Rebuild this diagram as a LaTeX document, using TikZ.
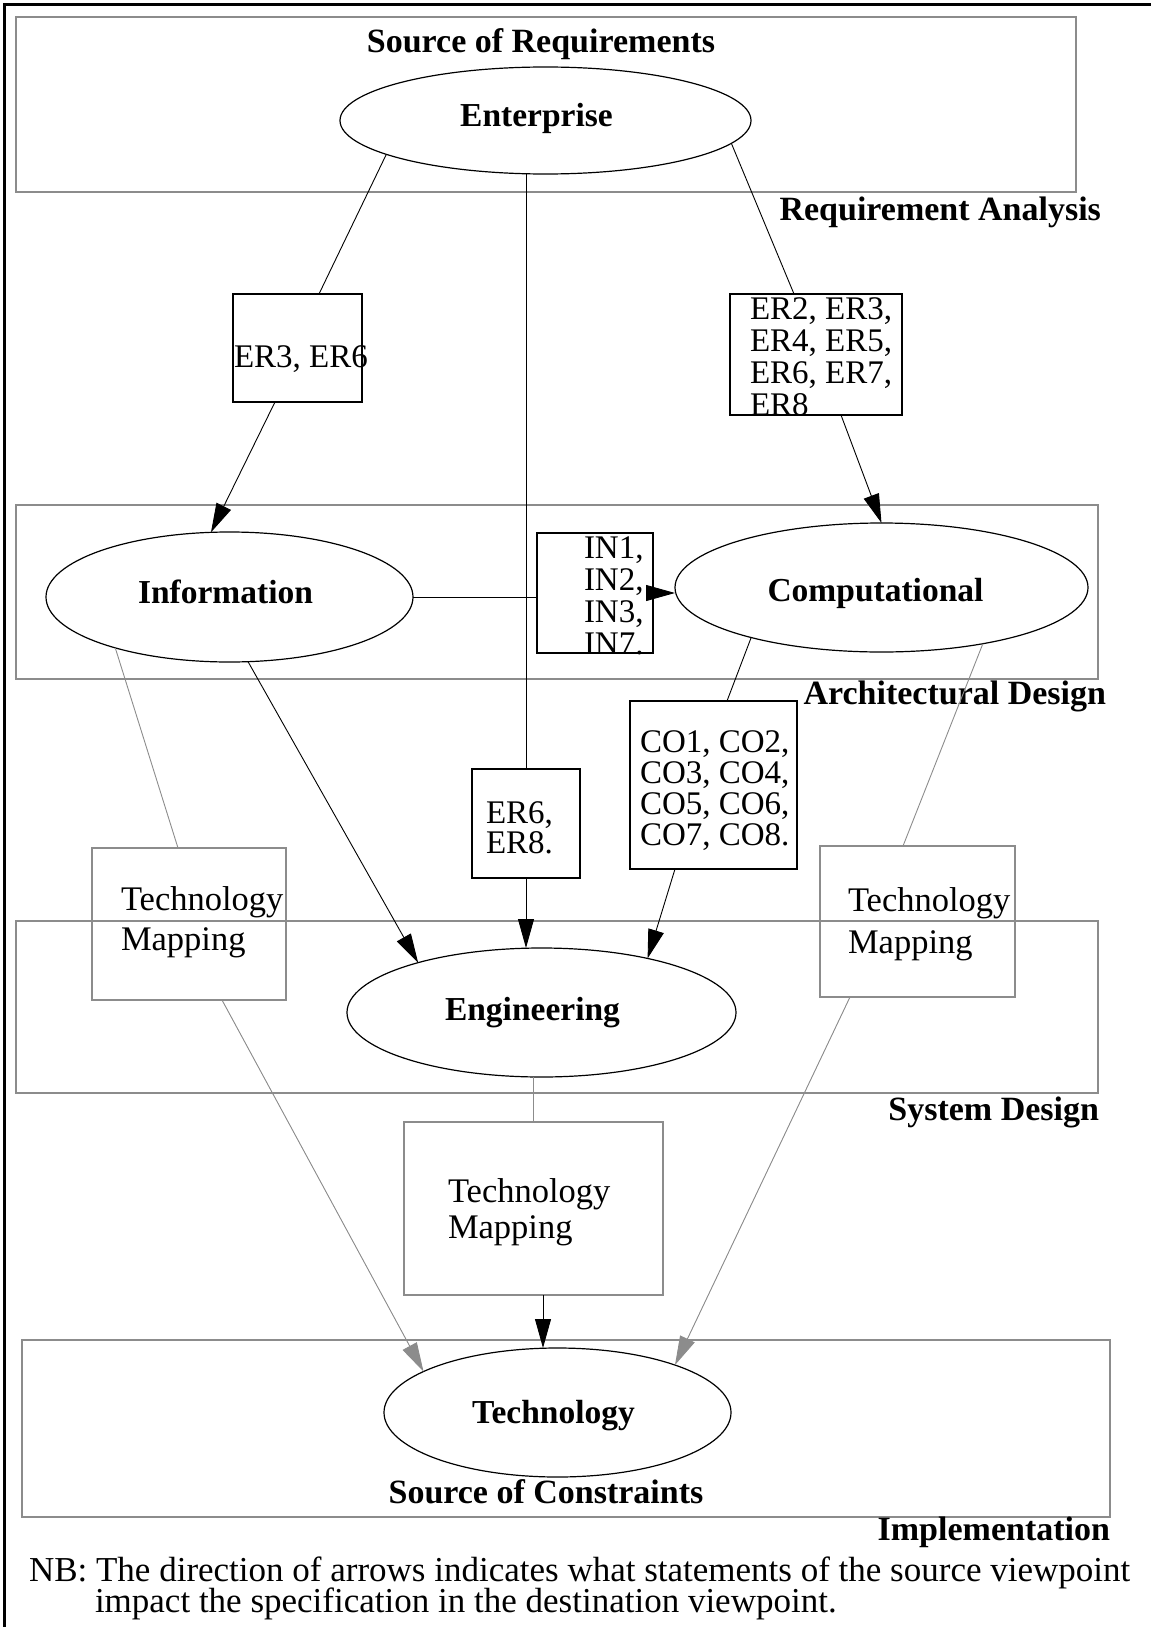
\documentclass[tikz,border=0pt]{standalone}
\usepackage{fontspec}
\setmainfont{Liberation Serif}
\usetikzlibrary{shapes.geometric,arrows.meta,calc}
\AtBeginDocument{\lineskiplimit=-30pt\relax}
\definecolor{fmgray}{gray}{0.55}
\tikzset{
  every node/.style={inner sep=0pt, outer sep=0pt},
  reg/.style={font=\fontsize{33}{32}\selectfont, align=left},
  bld/.style={font=\fontsize{34}{32}\selectfont\bfseries},
  vpfont/.style={font=\fontsize{33.5}{32}\selectfont\bfseries},
  layerbox/.style={draw=fmgray, line width=1.3pt},
  tmbox/.style={draw=fmgray, line width=1.1pt},
  reqbox/.style={draw=black, line width=1.1pt},
  vp/.style={ellipse, draw=black, line width=1.2pt, vpfont},
  conn/.style={line width=0.9pt, draw=black},
  gconn/.style={line width=0.9pt, draw=fmgray},
  arr/.style={-{Triangle[length=29pt,width=16pt]}},
}
\begin{document}
\begin{tikzpicture}[x=1pt,y=-1pt]
\useasboundingbox (0,0) rectangle (1151,1627);
% outer frame (top and left)
\draw[line width=3pt] (4,1627) -- (4,5) -- (1151,5);

% layer boxes
\node[layerbox, minimum width=1060pt, minimum height=175pt] (srcL) at (546,104.5) {};
\node[layerbox, minimum width=1082pt, minimum height=174pt] (archL) at (557,592) {};
\node[layerbox, minimum width=1082pt, minimum height=172pt] (sysL) at (557,1007) {};
\node[layerbox, minimum width=1088pt, minimum height=177pt] (implL) at (566,1428.5) {};

% layer labels
\node[bld, anchor=base] (srcT) at (541,53) {Source of Requirements};
\node[bld, anchor=base east] (reqT) at (1101,220) {Requirement Analysis};
\node[bld, anchor=base east] (archT) at (1106,704) {Architectural Design};
\node[bld, anchor=base east] (sysT) at (1099,1120) {System Design};
\node[bld, anchor=base] (conT) at (546,1503) {Source of Constraints};
\node[bld, anchor=base east] (implT) at (1110,1540) {Implementation};

% viewpoints
\node[vp, minimum width=411pt, minimum height=107pt, text height=22pt, text depth=9pt] (ent) at (545.5,120.5) {\hspace*{-18pt}Enterprise};
\node[vp, minimum width=367pt, minimum height=130pt, text height=22pt, text depth=9pt] (info) at (229.5,597) {\hspace*{-8pt}Information};
\node[vp, minimum width=413pt, minimum height=129pt, text height=27pt, text depth=0pt] (comp) at (881.5,587.5) {\hspace*{-12pt}Computational};
\node[vp, minimum width=389pt, minimum height=129pt, text height=22pt, text depth=7pt] (eng) at (541.5,1012.5) {\hspace*{-18pt}Engineering};
\node[vp, minimum width=347pt, minimum height=129pt, text height=22pt, text depth=0pt] (tech) at (557.5,1412.5) {\hspace*{-8pt}Technology};

% statement boxes
\node[reqbox, minimum width=129pt, minimum height=108pt] (er36) at (297.5,348) {};
\node[reqbox, minimum width=172pt, minimum height=121pt] (er2b) at (816,354.5) {};
\node[reqbox, minimum width=116pt, minimum height=120pt] (inb) at (595,593) {};
\node[reqbox, minimum width=108pt, minimum height=109pt] (er68) at (526,823.5) {};
\node[reqbox, minimum width=167pt, minimum height=168pt] (cob) at (713.5,785) {};

% technology mapping boxes
\node[tmbox, minimum width=194pt, minimum height=152pt] (tml) at (189,924) {};
\node[tmbox, minimum width=195pt, minimum height=151pt] (tmr) at (917.5,921.5) {};
\node[tmbox, minimum width=259pt, minimum height=173pt] (tmb) at (533.5,1208.5) {};

% box texts (base anchor = baseline of the last line)
\node[reg, anchor=base west] (er36t) at (234,367) {ER3, ER6};
\node[reg, anchor=base west] (er2t) at (750,415) {ER2, ER3,\\ER4, ER5,\\ER6, ER7,\\ER8};
\node[reg, anchor=base west, font=\fontsize{33}{31.7}\selectfont] (int) at (584,654) {IN1,\\IN2,\\IN3,\\IN7.};
\node[reg, anchor=base west, font=\fontsize{33}{30}\selectfont] (er68t) at (486,853) {ER6,\\ER8.};
\node[reg, anchor=base west, font=\fontsize{33}{31}\selectfont] (cot) at (640,845) {CO1, CO2,\\CO3, CO4,\\CO5, CO6,\\CO7, CO8.};
\node[reg, anchor=base west, font=\fontsize{34.5}{40}\selectfont] (tmlt) at (121,950) {Technology\\Mapping};
\node[reg, anchor=base west, font=\fontsize{34.5}{42}\selectfont] (tmrt) at (848,953) {Technology\\Mapping};
\node[reg, anchor=base west, font=\fontsize{34.5}{36}\selectfont] (tmbt) at (448,1238) {Technology\\Mapping};

% note
\node[reg, anchor=base west, font=\fontsize{35}{31}\selectfont] (nb) at (29,1612)
  {NB: The direction of arrows indicates what statements of the source viewpoint\\\hspace*{66pt}impact the specification in the destination viewpoint.};

% black connectors
\draw[conn] (ent.-168) -- ([xshift=21.5pt]er36.north);
\draw[conn, arr] ([xshift=-22.5pt]er36.south) -- (info.106);
\draw[conn] (ent.-7) -- ([xshift=-22pt]er2b.north);
\draw[conn, arr] ([xshift=25pt]er2b.south) -- (comp.north);
\draw[conn] (er68.north |- ent.south) -- (er68.north);
\draw[conn, arr] (er68.south) -- (er68.south |- eng.north);
\draw[conn] (info.east) -- (inb.west |- info.east);
\draw[conn, arr] (inb.east) -- (comp.west |- inb.east);
\draw[conn] (comp.-159) -- ([xshift=13.5pt]cob.north);
\draw[conn, arr] ([xshift=-38.5pt]cob.south) -- (eng.27);
\draw[conn, arr] (info.-74) -- (eng.158);
\draw[conn, arr] ([xshift=9.5pt]tmb.south) -- ([xshift=9.5pt]tmb.south |- tech.north);

% gray connectors
\draw[gconn] (info.-156) -- ([xshift=-11pt]tml.north);
\draw[gconn] (comp.-29) -- ([xshift=-14.5pt]tmr.north);
\draw[gconn] (tmb.north |- eng.south) -- (tmb.north);
\draw[gconn, arr, fill=fmgray] ([xshift=33pt]tml.south) -- (tech.163);
\draw[gconn, arr, fill=fmgray] ([xshift=-67.5pt]tmr.south) -- (tech.22);
\end{tikzpicture}
\end{document}
